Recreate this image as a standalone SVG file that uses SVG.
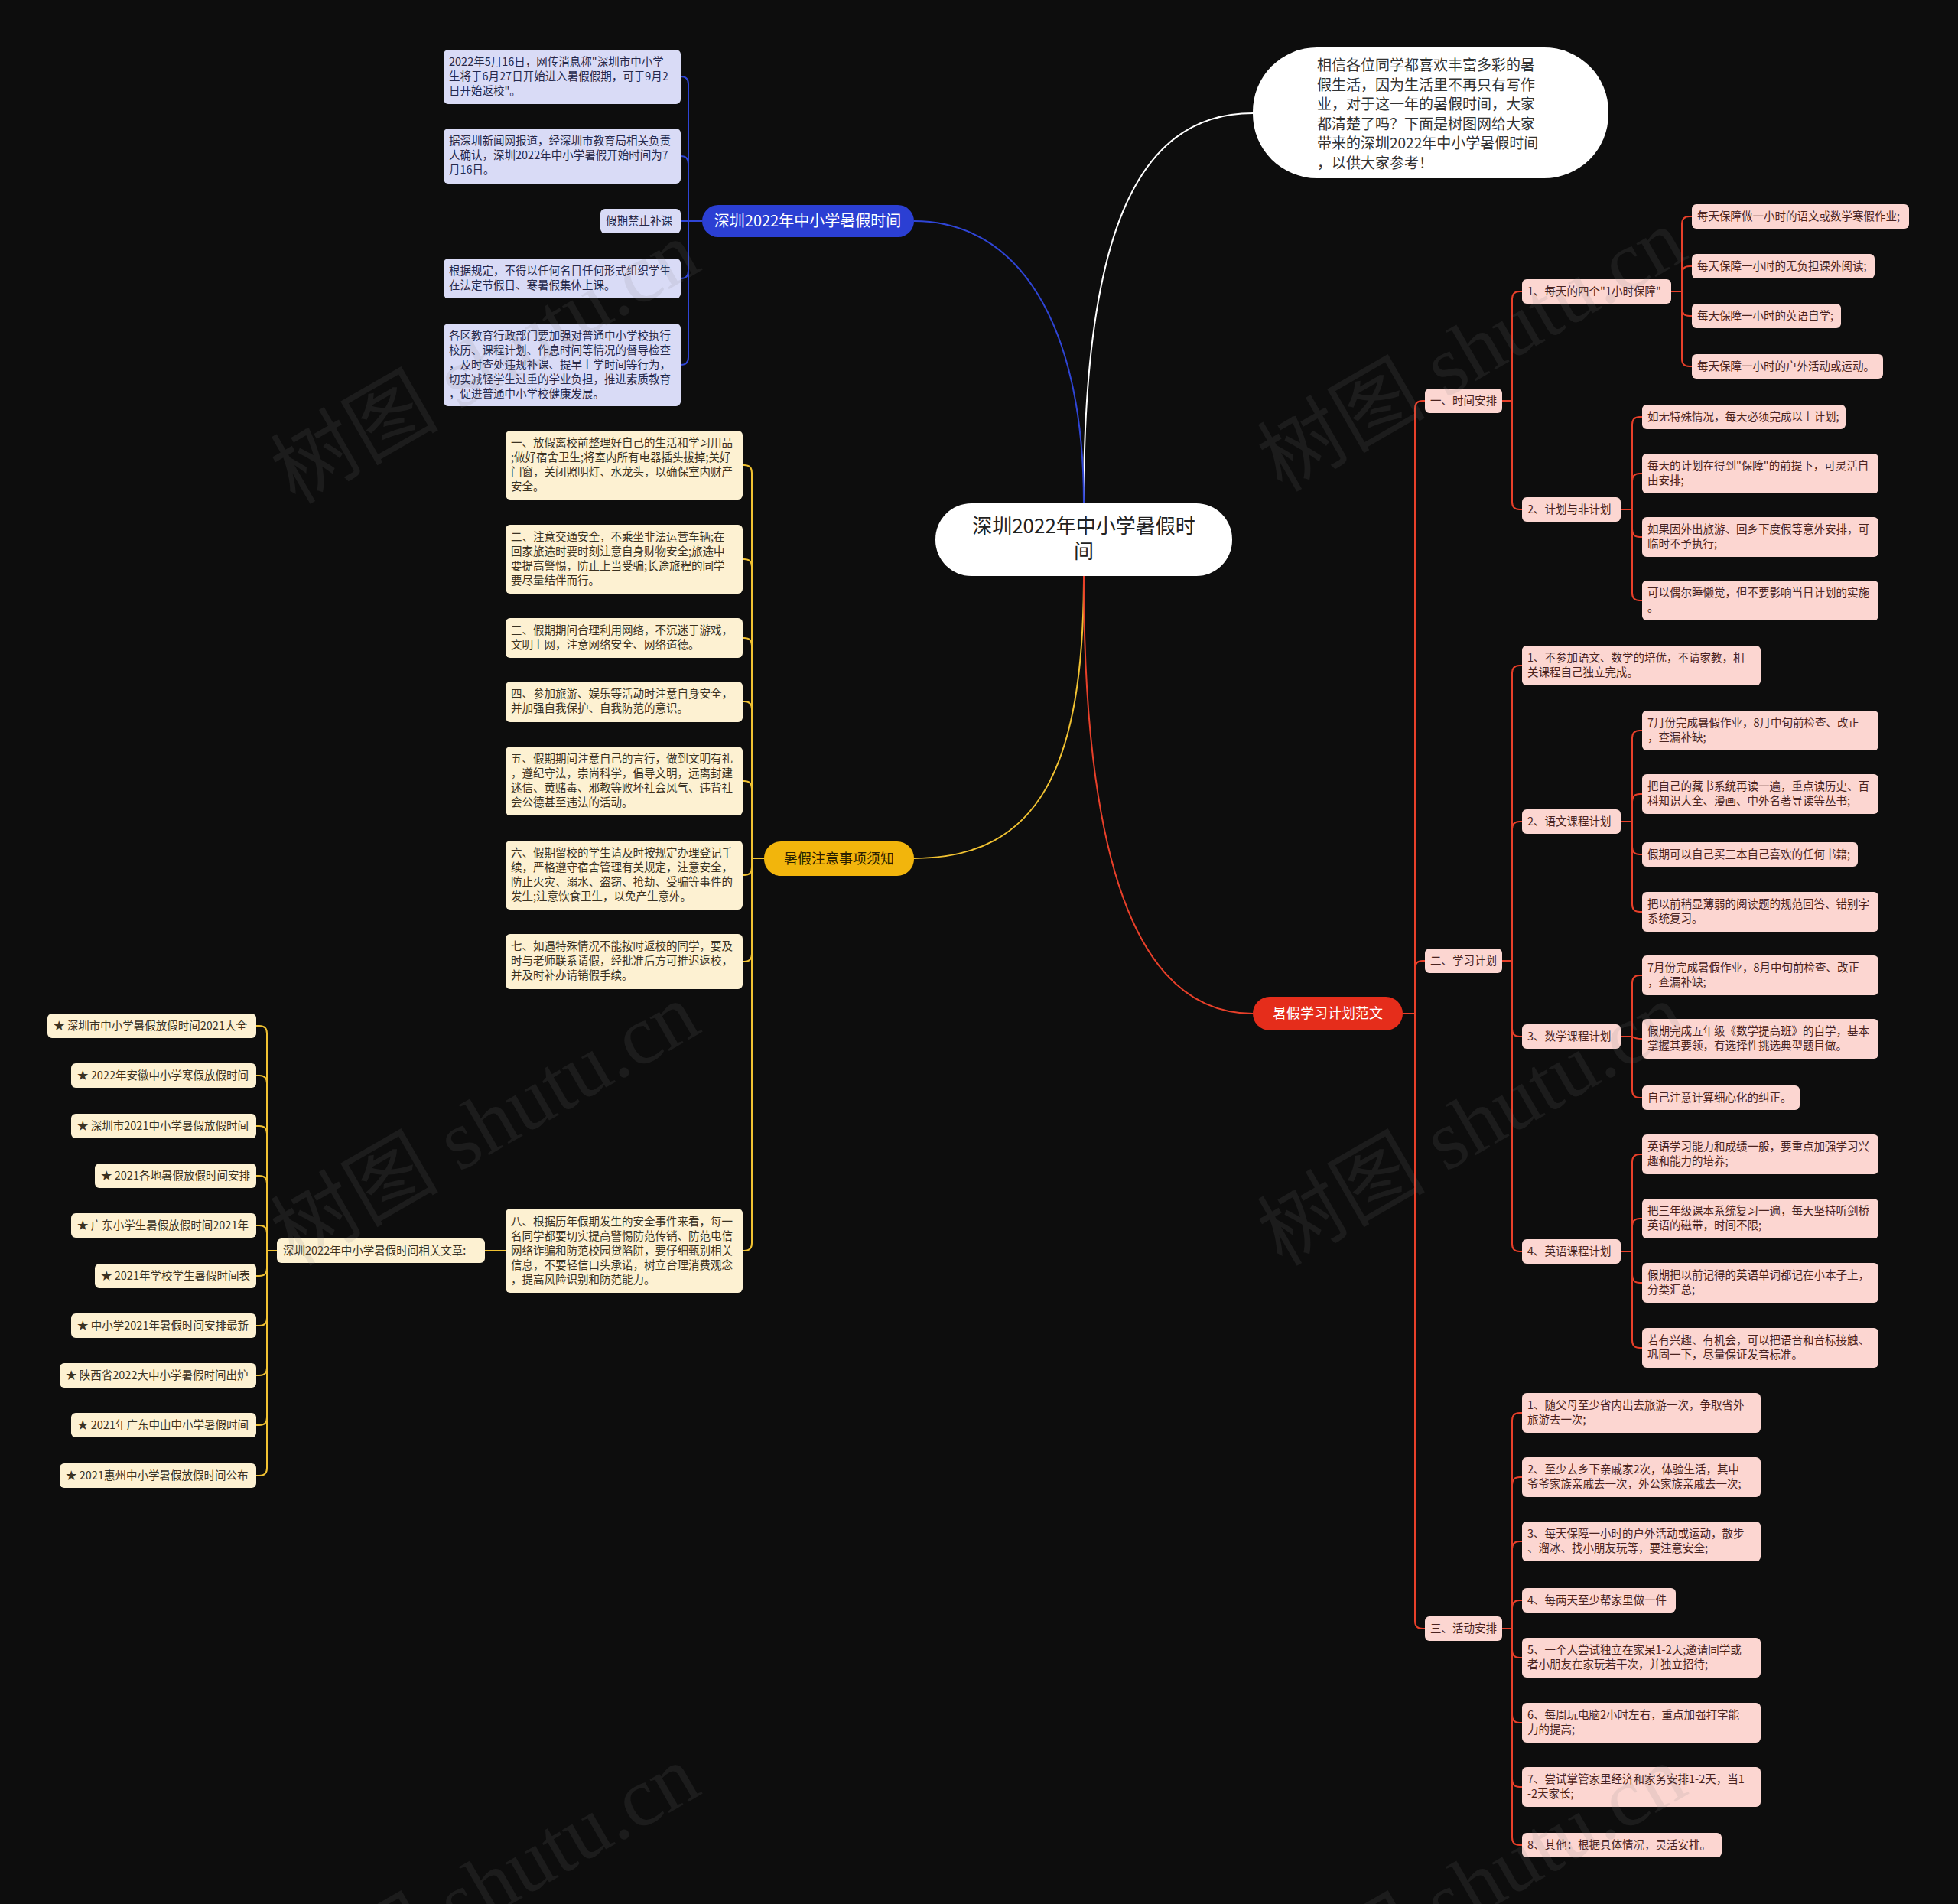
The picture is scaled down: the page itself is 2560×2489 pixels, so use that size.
<svg xmlns="http://www.w3.org/2000/svg" width="2560" height="2489" viewBox="0 0 2560 2489">
<style>
text{font-family:"Noto Sans CJK SC","Noto Sans",sans-serif}
.t{font-size:14.5px}
.bl{fill:#d9dbf6}
.yl{fill:#fdf1d2}
.pk{fill:#fcd6d1}
.tb{fill:#26284a}
.ty{fill:#3b3222}
.tp{fill:#4a2320}
.c{fill:none;stroke-width:2}
.cb{stroke:#2f45d6}
.cy{stroke:#f1c232}
.cr{stroke:#e8402a}
.wm{font-family:"Liberation Serif","Noto Sans CJK SC",serif;font-size:110px;fill:#808080;opacity:0.13}
</style>
<rect width="2560" height="2489" fill="#0d0d0d"/>

<g id="connectors">
<path class="c" stroke="#ffffff" stroke-width="2.5" d="M1417 658 C1417 320 1480 148 1638 148"/>
<path class="c cb" stroke-width="2.5" d="M1417 658 C1417 420 1330 289 1195 289"/>
<path class="c cy" stroke-width="2.5" d="M1417 753 C1417 1000 1360 1122 1195 1122"/>
<path class="c cr" stroke-width="2.5" d="M1417 753 C1417 1110 1480 1325 1638 1325"/>

<path class="c cb" d="M918 289 H900 V110 Q900 100 890 100"/>
<path class="c cb" d="M918 289 H900 V214 Q900 204 890 204"/>
<path class="c cb" d="M918 289 H890"/>
<path class="c cb" d="M918 289 H900 V354 Q900 364 890 364"/>
<path class="c cb" d="M918 289 H900 V467 Q900 477 890 477"/>

<path class="c cy" d="M999 1122 H983 V618 Q983 608 973 608 H971"/>
<path class="c cy" d="M999 1122 H983 V741 Q983 731 973 731 H971"/>
<path class="c cy" d="M999 1122 H983 V844 Q983 834 973 834 H971"/>
<path class="c cy" d="M999 1122 H983 V927 Q983 917 973 917 H971"/>
<path class="c cy" d="M999 1122 H983 V1031 Q983 1021 973 1021 H971"/>
<path class="c cy" d="M999 1122 H983 V1134 Q983 1144 973 1144 H971"/>
<path class="c cy" d="M999 1122 H983 V1247 Q983 1257 973 1257 H971"/>
<path class="c cy" d="M999 1122 H983 V1625 Q983 1635 973 1635 H971"/>
<path class="c cy" d="M661 1635 H634"/>

<path class="c cy" d="M362 1635 H349 V1351 Q349 1341 339 1341 H335"/>
<path class="c cy" d="M362 1635 H349 V1416 Q349 1406 339 1406 H335"/>
<path class="c cy" d="M362 1635 H349 V1482 Q349 1472 339 1472 H335"/>
<path class="c cy" d="M362 1635 H349 V1547 Q349 1537 339 1537 H335"/>
<path class="c cy" d="M362 1635 H349 V1612 Q349 1602 339 1602 H335"/>
<path class="c cy" d="M362 1635 H349 V1658 Q349 1668 339 1668 H335"/>
<path class="c cy" d="M362 1635 H349 V1723 Q349 1733 339 1733 H335"/>
<path class="c cy" d="M362 1635 H349 V1788 Q349 1798 339 1798 H335"/>
<path class="c cy" d="M362 1635 H349 V1853 Q349 1863 339 1863 H335"/>
<path class="c cy" d="M362 1635 H349 V1919 Q349 1929 339 1929 H335"/>

<path class="c cr" d="M1834 1325 H1850 V534 Q1850 524 1860 524 H1863"/>
<path class="c cr" d="M1834 1325 H1850 V1266 Q1850 1256 1860 1256 H1863"/>
<path class="c cr" d="M1834 1325 H1850 V2119 Q1850 2129 1860 2129 H1863"/>

<path class="c cr" d="M1964 524 H1977 V391 Q1977 381 1987 381 H1990"/>
<path class="c cr" d="M1964 524 H1977 V656 Q1977 666 1987 666 H1990"/>

<path class="c cr" d="M2185 381 H2199 V293 Q2199 283 2209 283 H2212"/>
<path class="c cr" d="M2185 381 H2199 V358 Q2199 348 2209 348 H2212"/>
<path class="c cr" d="M2185 381 H2199 V403 Q2199 413 2209 413 H2212"/>
<path class="c cr" d="M2185 381 H2199 V469 Q2199 479 2209 479 H2212"/>

<path class="c cr" d="M2119 666 H2134 V555 Q2134 545 2144 545 H2147"/>
<path class="c cr" d="M2119 666 H2134 V629 Q2134 619 2144 619 H2147"/>
<path class="c cr" d="M2119 666 H2134 V692 Q2134 702 2144 702 H2147"/>
<path class="c cr" d="M2119 666 H2134 V775 Q2134 785 2144 785 H2147"/>

<path class="c cr" d="M1964 1256 H1977 V880 Q1977 870 1987 870 H1990"/>
<path class="c cr" d="M1964 1256 H1977 V1084 Q1977 1074 1987 1074 H1990"/>
<path class="c cr" d="M1964 1256 H1977 V1345 Q1977 1355 1987 1355 H1990"/>
<path class="c cr" d="M1964 1256 H1977 V1626 Q1977 1636 1987 1636 H1990"/>

<path class="c cr" d="M2119 1074 H2134 V965 Q2134 955 2144 955 H2147"/>
<path class="c cr" d="M2119 1074 H2134 V1048 Q2134 1038 2144 1038 H2147"/>
<path class="c cr" d="M2119 1074 H2134 V1107 Q2134 1117 2144 1117 H2147"/>
<path class="c cr" d="M2119 1074 H2134 V1182 Q2134 1192 2144 1192 H2147"/>

<path class="c cr" d="M2119 1355 H2134 V1285 Q2134 1275 2144 1275 H2147"/>
<path class="c cr" d="M2119 1355 H2134 Q2138 1358 2147 1358"/>
<path class="c cr" d="M2119 1355 H2134 V1425 Q2134 1435 2144 1435 H2147"/>

<path class="c cr" d="M2119 1636 H2134 V1519 Q2134 1509 2144 1509 H2147"/>
<path class="c cr" d="M2119 1636 H2134 V1603 Q2134 1593 2144 1593 H2147"/>
<path class="c cr" d="M2119 1636 H2134 V1667 Q2134 1677 2144 1677 H2147"/>
<path class="c cr" d="M2119 1636 H2134 V1752 Q2134 1762 2144 1762 H2147"/>

<path class="c cr" d="M1964 2129 H1977 V1857 Q1977 1847 1987 1847 H1990"/>
<path class="c cr" d="M1964 2129 H1977 V1941 Q1977 1931 1987 1931 H1990"/>
<path class="c cr" d="M1964 2129 H1977 V2025 Q1977 2015 1987 2015 H1990"/>
<path class="c cr" d="M1964 2129 H1977 V2102 Q1977 2092 1987 2092 H1990"/>
<path class="c cr" d="M1964 2129 H1977 V2157 Q1977 2167 1987 2167 H1990"/>
<path class="c cr" d="M1964 2129 H1977 V2242 Q1977 2252 1987 2252 H1990"/>
<path class="c cr" d="M1964 2129 H1977 V2326 Q1977 2336 1987 2336 H1990"/>
<path class="c cr" d="M1964 2129 H1977 V2402 Q1977 2412 1987 2412 H1990"/>
</g>

<g id="root">
<rect x="1223" y="658" width="388" height="95" rx="47" fill="#ffffff"/>
<text x="1417" y="697" font-size="26" fill="#222" text-anchor="middle">深圳2022年中小学暑假时</text>
<text x="1417" y="730" font-size="26" fill="#222" text-anchor="middle">间</text>
</g>

<g id="intro">
<rect x="1638" y="62" width="465" height="171" rx="84" fill="#ffffff"/>
<g font-size="19" fill="#333">
<text x="1722" y="92">相信各位同学都喜欢丰富多彩的暑</text>
<text x="1722" y="118">假生活，因为生活里不再只有写作</text>
<text x="1722" y="143">业，对于这一年的暑假时间，大家</text>
<text x="1722" y="169">都清楚了吗？下面是树图网给大家</text>
<text x="1722" y="194">带来的深圳2022年中小学暑假时间</text>
<text x="1722" y="220">，以供大家参考！</text>
</g>
</g>

<g id="branch-blue">
<rect x="918" y="268" width="277" height="42" rx="21" fill="#2b3fd3"/>
<text x="1056" y="296" font-size="20" fill="#ffffff" text-anchor="middle">深圳2022年中小学暑假时间</text>
</g>
<g id="b1"><rect class="bl" x="580" y="65" width="310" height="71" rx="6"/>
<text class="t tb" x="587" y="86">2022年5月16日，网传消息称"深圳市中小学</text>
<text class="t tb" x="587" y="105">生将于6月27日开始进入暑假假期，可于9月2</text>
<text class="t tb" x="587" y="124">日开始返校"。</text></g>
<g id="b2"><rect class="bl" x="580" y="168" width="310" height="72" rx="6"/>
<text class="t tb" x="587" y="189">据深圳新闻网报道，经深圳市教育局相关负责</text>
<text class="t tb" x="587" y="208">人确认，深圳2022年中小学暑假开始时间为7</text>
<text class="t tb" x="587" y="227">月16日。</text></g>
<g id="b3"><rect class="bl" x="785" y="273" width="105" height="32" rx="6"/>
<text class="t tb" x="792" y="294">假期禁止补课</text></g>
<g id="b4"><rect class="bl" x="580" y="338" width="310" height="52" rx="6"/>
<text class="t tb" x="587" y="359">根据规定，不得以任何名目任何形式组织学生</text>
<text class="t tb" x="587" y="378">在法定节假日、寒暑假集体上课。</text></g>
<g id="b5"><rect class="bl" x="580" y="423" width="310" height="108" rx="6"/>
<text class="t tb" x="587" y="444">各区教育行政部门要加强对普通中小学校执行</text>
<text class="t tb" x="587" y="463">校历、课程计划、作息时间等情况的督导检查</text>
<text class="t tb" x="587" y="482">，及时查处违规补课、提早上学时间等行为，</text>
<text class="t tb" x="587" y="501">切实减轻学生过重的学业负担，推进素质教育</text>
<text class="t tb" x="587" y="520">，促进普通中小学校健康发展。</text></g>

<g id="branch-yellow">
<rect x="999" y="1100" width="196" height="45" rx="22" fill="#f2b50c"/>
<text x="1097" y="1129" font-size="18" fill="#2a2000" text-anchor="middle">暑假注意事项须知</text>
</g>
<g id="y1"><rect class="yl" x="661" y="563" width="310" height="90" rx="6"/>
<text class="t ty" x="668" y="584">一、放假离校前整理好自己的生活和学习用品</text>
<text class="t ty" x="668" y="603">;做好宿舍卫生;将室内所有电器插头拔掉;关好</text>
<text class="t ty" x="668" y="622">门窗，关闭照明灯、水龙头，以确保室内财产</text>
<text class="t ty" x="668" y="641">安全。</text></g>
<g id="y2"><rect class="yl" x="661" y="686" width="310" height="90" rx="6"/>
<text class="t ty" x="668" y="707">二、注意交通安全，不乘坐非法运营车辆;在</text>
<text class="t ty" x="668" y="726">回家旅途时要时刻注意自身财物安全;旅途中</text>
<text class="t ty" x="668" y="745">要提高警惕，防止上当受骗;长途旅程的同学</text>
<text class="t ty" x="668" y="764">要尽量结伴而行。</text></g>
<g id="y3"><rect class="yl" x="661" y="808" width="310" height="52" rx="6"/>
<text class="t ty" x="668" y="829">三、假期期间合理利用网络，不沉迷于游戏，</text>
<text class="t ty" x="668" y="848">文明上网，注意网络安全、网络道德。</text></g>
<g id="y4"><rect class="yl" x="661" y="891" width="310" height="53" rx="6"/>
<text class="t ty" x="668" y="912">四、参加旅游、娱乐等活动时注意自身安全，</text>
<text class="t ty" x="668" y="931">并加强自我保护、自我防范的意识。</text></g>
<g id="y5"><rect class="yl" x="661" y="976" width="310" height="90" rx="6"/>
<text class="t ty" x="668" y="997">五、假期期间注意自己的言行，做到文明有礼</text>
<text class="t ty" x="668" y="1016">，遵纪守法，崇尚科学，倡导文明，远离封建</text>
<text class="t ty" x="668" y="1035">迷信、黄赌毒、邪教等败坏社会风气、违背社</text>
<text class="t ty" x="668" y="1054">会公德甚至违法的活动。</text></g>
<g id="y6"><rect class="yl" x="661" y="1099" width="310" height="90" rx="6"/>
<text class="t ty" x="668" y="1120">六、假期留校的学生请及时按规定办理登记手</text>
<text class="t ty" x="668" y="1139">续，严格遵守宿舍管理有关规定，注意安全，</text>
<text class="t ty" x="668" y="1158">防止火灾、溺水、盗窃、抢劫、受骗等事件的</text>
<text class="t ty" x="668" y="1177">发生;注意饮食卫生，以免产生意外。</text></g>
<g id="y7"><rect class="yl" x="661" y="1221" width="310" height="72" rx="6"/>
<text class="t ty" x="668" y="1242">七、如遇特殊情况不能按时返校的同学，要及</text>
<text class="t ty" x="668" y="1261">时与老师联系请假，经批准后方可推迟返校，</text>
<text class="t ty" x="668" y="1280">并及时补办请销假手续。</text></g>
<g id="y8"><rect class="yl" x="661" y="1580" width="310" height="110" rx="6"/>
<text class="t ty" x="668" y="1602">八、根据历年假期发生的安全事件来看，每一</text>
<text class="t ty" x="668" y="1621">名同学都要切实提高警惕防范传销、防范电信</text>
<text class="t ty" x="668" y="1640">网络诈骗和防范校园贷陷阱，要仔细甄别相关</text>
<text class="t ty" x="668" y="1659">信息，不要轻信口头承诺，树立合理消费观念</text>
<text class="t ty" x="668" y="1678">，提高风险识别和防范能力。</text></g>

<g id="related"><rect class="yl" x="362" y="1619" width="272" height="32" rx="6"/>
<text class="t ty" x="370" y="1640">深圳2022年中小学暑假时间相关文章:</text></g>
<g id="a1"><rect class="yl" x="62" y="1325" width="273" height="32" rx="6"/><text class="t ty" x="70" y="1346">★ 深圳市中小学暑假放假时间2021大全</text></g>
<g id="a2"><rect class="yl" x="93" y="1390" width="242" height="32" rx="6"/><text class="t ty" x="101" y="1411">★ 2022年安徽中小学寒假放假时间</text></g>
<g id="a3"><rect class="yl" x="93" y="1456" width="242" height="32" rx="6"/><text class="t ty" x="101" y="1477">★ 深圳市2021中小学暑假放假时间</text></g>
<g id="a4"><rect class="yl" x="124" y="1521" width="211" height="32" rx="6"/><text class="t ty" x="132" y="1542">★ 2021各地暑假放假时间安排</text></g>
<g id="a5"><rect class="yl" x="93" y="1586" width="242" height="32" rx="6"/><text class="t ty" x="101" y="1607">★ 广东小学生暑假放假时间2021年</text></g>
<g id="a6"><rect class="yl" x="124" y="1652" width="211" height="32" rx="6"/><text class="t ty" x="132" y="1673">★ 2021年学校学生暑假时间表</text></g>
<g id="a7"><rect class="yl" x="93" y="1717" width="242" height="32" rx="6"/><text class="t ty" x="101" y="1738">★ 中小学2021年暑假时间安排最新</text></g>
<g id="a8"><rect class="yl" x="78" y="1782" width="257" height="32" rx="6"/><text class="t ty" x="86" y="1803">★ 陕西省2022大中小学暑假时间出炉</text></g>
<g id="a9"><rect class="yl" x="93" y="1847" width="242" height="32" rx="6"/><text class="t ty" x="101" y="1868">★ 2021年广东中山中小学暑假时间</text></g>
<g id="a10"><rect class="yl" x="78" y="1913" width="257" height="32" rx="6"/><text class="t ty" x="86" y="1934">★ 2021惠州中小学暑假放假时间公布</text></g>

<g id="branch-red">
<rect x="1638" y="1303" width="196" height="44" rx="22" fill="#e52d1b"/>
<text x="1736" y="1331" font-size="18" fill="#ffffff" text-anchor="middle">暑假学习计划范文</text>
</g>

<g id="r1"><rect class="pk" x="1863" y="508" width="101" height="32" rx="6"/><text class="t tp" x="1870" y="529">一、时间安排</text></g>
<g id="r2"><rect class="pk" x="1863" y="1240" width="101" height="32" rx="6"/><text class="t tp" x="1870" y="1261">二、学习计划</text></g>
<g id="r3"><rect class="pk" x="1863" y="2113" width="101" height="32" rx="6"/><text class="t tp" x="1870" y="2134">三、活动安排</text></g>

<g id="r1-1"><rect class="pk" x="1990" y="365" width="195" height="32" rx="6"/><text class="t tp" x="1997" y="386">1、每天的四个"1小时保障"</text></g>
<g id="r1-2"><rect class="pk" x="1990" y="650" width="129" height="32" rx="6"/><text class="t tp" x="1997" y="671">2、计划与非计划</text></g>

<g id="r1-1-1"><rect class="pk" x="2212" y="267" width="284" height="32" rx="6"/><text class="t tp" x="2219" y="288">每天保障做一小时的语文或数学寒假作业;</text></g>
<g id="r1-1-2"><rect class="pk" x="2212" y="332" width="239" height="32" rx="6"/><text class="t tp" x="2219" y="353">每天保障一小时的无负担课外阅读;</text></g>
<g id="r1-1-3"><rect class="pk" x="2212" y="397" width="195" height="32" rx="6"/><text class="t tp" x="2219" y="418">每天保障一小时的英语自学;</text></g>
<g id="r1-1-4"><rect class="pk" x="2212" y="463" width="250" height="32" rx="6"/><text class="t tp" x="2219" y="484">每天保障一小时的户外活动或运动。</text></g>

<g id="r1-2-1"><rect class="pk" x="2147" y="529" width="266" height="32" rx="6"/><text class="t tp" x="2154" y="550">如无特殊情况，每天必须完成以上计划;</text></g>
<g id="r1-2-2"><rect class="pk" x="2147" y="593" width="309" height="52" rx="6"/><text class="t tp" x="2154" y="614">每天的计划在得到"保障"的前提下，可灵活自</text><text class="t tp" x="2154" y="633">由安排;</text></g>
<g id="r1-2-3"><rect class="pk" x="2147" y="676" width="309" height="52" rx="6"/><text class="t tp" x="2154" y="697">如果因外出旅游、回乡下度假等意外安排，可</text><text class="t tp" x="2154" y="716">临时不予执行;</text></g>
<g id="r1-2-4"><rect class="pk" x="2147" y="759" width="309" height="52" rx="6"/><text class="t tp" x="2154" y="780">可以偶尔睡懒觉，但不要影响当日计划的实施</text><text class="t tp" x="2154" y="799">。</text></g>

<g id="r2-1"><rect class="pk" x="1990" y="844" width="312" height="52" rx="6"/><text class="t tp" x="1997" y="865">1、不参加语文、数学的培优，不请家教，相</text><text class="t tp" x="1997" y="884">关课程自己独立完成。</text></g>
<g id="r2-2"><rect class="pk" x="1990" y="1058" width="129" height="32" rx="6"/><text class="t tp" x="1997" y="1079">2、语文课程计划</text></g>
<g id="r2-3"><rect class="pk" x="1990" y="1339" width="129" height="32" rx="6"/><text class="t tp" x="1997" y="1360">3、数学课程计划</text></g>
<g id="r2-4"><rect class="pk" x="1990" y="1620" width="129" height="32" rx="6"/><text class="t tp" x="1997" y="1641">4、英语课程计划</text></g>

<g id="r2-2-1"><rect class="pk" x="2147" y="929" width="309" height="52" rx="6"/><text class="t tp" x="2154" y="950">7月份完成暑假作业，8月中旬前检查、改正</text><text class="t tp" x="2154" y="969">，查漏补缺;</text></g>
<g id="r2-2-2"><rect class="pk" x="2147" y="1012" width="309" height="52" rx="6"/><text class="t tp" x="2154" y="1033">把自己的藏书系统再读一遍，重点读历史、百</text><text class="t tp" x="2154" y="1052">科知识大全、漫画、中外名著导读等丛书;</text></g>
<g id="r2-2-3"><rect class="pk" x="2147" y="1101" width="282" height="32" rx="6"/><text class="t tp" x="2154" y="1122">假期可以自己买三本自己喜欢的任何书籍;</text></g>
<g id="r2-2-4"><rect class="pk" x="2147" y="1166" width="309" height="52" rx="6"/><text class="t tp" x="2154" y="1187">把以前稍显薄弱的阅读题的规范回答、错别字</text><text class="t tp" x="2154" y="1206">系统复习。</text></g>

<g id="r2-3-1"><rect class="pk" x="2147" y="1249" width="309" height="52" rx="6"/><text class="t tp" x="2154" y="1270">7月份完成暑假作业，8月中旬前检查、改正</text><text class="t tp" x="2154" y="1289">，查漏补缺;</text></g>
<g id="r2-3-2"><rect class="pk" x="2147" y="1332" width="309" height="52" rx="6"/><text class="t tp" x="2154" y="1353">假期完成五年级《数学提高班》的自学，基本</text><text class="t tp" x="2154" y="1372">掌握其要领，有选择性挑选典型题目做。</text></g>
<g id="r2-3-3"><rect class="pk" x="2147" y="1419" width="206" height="32" rx="6"/><text class="t tp" x="2154" y="1440">自己注意计算细心化的纠正。</text></g>

<g id="r2-4-1"><rect class="pk" x="2147" y="1483" width="309" height="52" rx="6"/><text class="t tp" x="2154" y="1504">英语学习能力和成绩一般，要重点加强学习兴</text><text class="t tp" x="2154" y="1523">趣和能力的培养;</text></g>
<g id="r2-4-2"><rect class="pk" x="2147" y="1567" width="309" height="52" rx="6"/><text class="t tp" x="2154" y="1588">把三年级课本系统复习一遍，每天坚持听剑桥</text><text class="t tp" x="2154" y="1607">英语的磁带，时间不限;</text></g>
<g id="r2-4-3"><rect class="pk" x="2147" y="1651" width="309" height="52" rx="6"/><text class="t tp" x="2154" y="1672">假期把以前记得的英语单词都记在小本子上，</text><text class="t tp" x="2154" y="1691">分类汇总;</text></g>
<g id="r2-4-4"><rect class="pk" x="2147" y="1736" width="309" height="52" rx="6"/><text class="t tp" x="2154" y="1757">若有兴趣、有机会，可以把语音和音标接触、</text><text class="t tp" x="2154" y="1776">巩固一下，尽量保证发音标准。</text></g>

<g id="r3-1"><rect class="pk" x="1990" y="1821" width="312" height="52" rx="6"/><text class="t tp" x="1997" y="1842">1、随父母至少省内出去旅游一次，争取省外</text><text class="t tp" x="1997" y="1861">旅游去一次;</text></g>
<g id="r3-2"><rect class="pk" x="1990" y="1905" width="312" height="52" rx="6"/><text class="t tp" x="1997" y="1926">2、至少去乡下亲戚家2次，体验生活，其中</text><text class="t tp" x="1997" y="1945">爷爷家族亲戚去一次，外公家族亲戚去一次;</text></g>
<g id="r3-3"><rect class="pk" x="1990" y="1989" width="312" height="52" rx="6"/><text class="t tp" x="1997" y="2010">3、每天保障一小时的户外活动或运动，散步</text><text class="t tp" x="1997" y="2029">、溜冰、找小朋友玩等，要注意安全;</text></g>
<g id="r3-4"><rect class="pk" x="1990" y="2076" width="201" height="32" rx="6"/><text class="t tp" x="1997" y="2097">4、每两天至少帮家里做一件</text></g>
<g id="r3-5"><rect class="pk" x="1990" y="2141" width="312" height="52" rx="6"/><text class="t tp" x="1997" y="2162">5、一个人尝试独立在家呆1-2天;邀请同学或</text><text class="t tp" x="1997" y="2181">者小朋友在家玩若干次，并独立招待;</text></g>
<g id="r3-6"><rect class="pk" x="1990" y="2226" width="312" height="52" rx="6"/><text class="t tp" x="1997" y="2247">6、每周玩电脑2小时左右，重点加强打字能</text><text class="t tp" x="1997" y="2266">力的提高;</text></g>
<g id="r3-7"><rect class="pk" x="1990" y="2310" width="312" height="52" rx="6"/><text class="t tp" x="1997" y="2331">7、尝试掌管家里经济和家务安排1-2天，当1</text><text class="t tp" x="1997" y="2350">-2天家长;</text></g>
<g id="r3-8"><rect class="pk" x="1990" y="2396" width="261" height="32" rx="6"/><text class="t tp" x="1997" y="2417">8、其他：根据具体情况，灵活安排。</text></g>

<g id="watermarks">
<text class="wm" transform="translate(653 506) rotate(-30)" text-anchor="middle">树图 shutu.cn</text>
<text class="wm" transform="translate(1943 490) rotate(-30)" text-anchor="middle">树图 shutu.cn</text>
<text class="wm" transform="translate(653 1502) rotate(-30)" text-anchor="middle">树图 shutu.cn</text>
<text class="wm" transform="translate(1943 1502) rotate(-30)" text-anchor="middle">树图 shutu.cn</text>
<text class="wm" transform="translate(653 2498) rotate(-30)" text-anchor="middle">树图 shutu.cn</text>
<text class="wm" transform="translate(1943 2498) rotate(-30)" text-anchor="middle">树图 shutu.cn</text>
</g>
</svg>
